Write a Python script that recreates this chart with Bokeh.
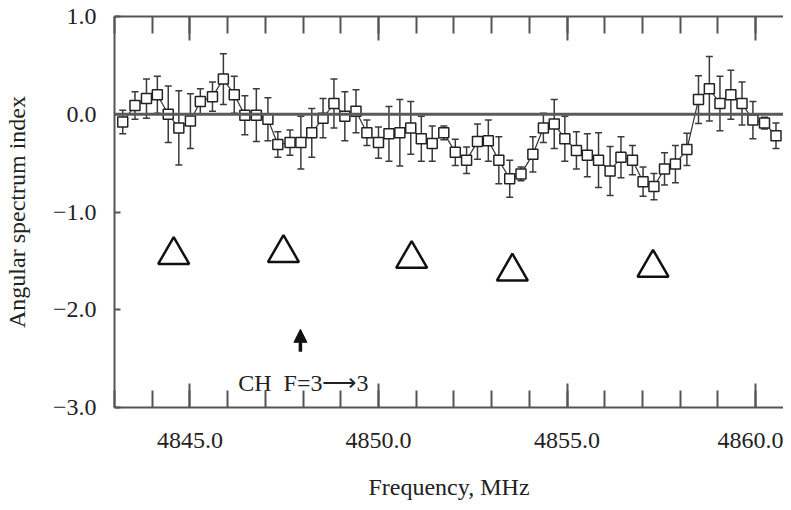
from bokeh.plotting import figure
from bokeh.models import (Range1d, FixedTicker, LinearAxis, Whisker, TeeHead, Span,
                          Label, Arrow, NormalHead, ColumnDataSource, PrintfTickFormatter)
from bokeh.embed import file_html
from bokeh.resources import INLINE

# ---- data ----
freq = [4843.218, 4843.543, 4843.848, 4844.136, 4844.425, 4844.706, 4845.013, 4845.276,
        4845.598, 4845.887, 4846.176, 4846.457, 4846.761, 4847.068, 4847.331, 4847.654,
        4847.942, 4848.231, 4848.530, 4848.819, 4849.108, 4849.404, 4849.693, 4850.000,
        4850.278, 4850.567, 4850.856, 4851.136, 4851.425, 4851.732, 4852.037, 4852.336,
        4852.625, 4852.913, 4853.192, 4853.480, 4853.780, 4854.094, 4854.373, 4854.661,
        4854.942, 4855.249, 4855.538, 4855.835, 4856.142, 4856.430, 4856.735, 4857.016,
        4857.304, 4857.585, 4857.874, 4858.178, 4858.486, 4858.774, 4859.055, 4859.344,
        4859.640, 4859.929, 4860.236, 4860.541]
index = [-0.08, 0.09, 0.16, 0.20, 0.00, -0.14, -0.07, 0.13, 0.18, 0.36, 0.20, -0.01,
         -0.01, -0.05, -0.31, -0.29, -0.29, -0.19, -0.04, 0.11, -0.02, 0.03, -0.19, -0.29,
         -0.20, -0.19, -0.14, -0.25, -0.30, -0.19, -0.39, -0.47, -0.28, -0.27, -0.47, -0.66,
         -0.61, -0.41, -0.14, -0.10, -0.25, -0.37, -0.42, -0.47, -0.58, -0.44, -0.47, -0.69,
         -0.74, -0.56, -0.51, -0.36, 0.15, 0.26, 0.11, 0.20, 0.11, -0.06, -0.09, -0.22]
err = [0.12, 0.14, 0.20, 0.19, 0.29, 0.38, 0.28, 0.13, 0.15, 0.26, 0.19, 0.20,
       0.27, 0.22, 0.13, 0.13, 0.27, 0.25, 0.20, 0.25, 0.25, 0.22, 0.13, 0.16,
       0.28, 0.34, 0.27, 0.23, 0.18, 0.07, 0.135, 0.135, 0.18, 0.21, 0.24, 0.19,
       0.07, 0.18, 0.15, 0.25, 0.23, 0.19, 0.22, 0.28, 0.25, 0.21, 0.15, 0.15,
       0.135, 0.165, 0.19, 0.165, 0.245, 0.33, 0.28, 0.25, 0.22, 0.19, 0.06, 0.13]

tri_freq = [4844.57, 4847.48, 4850.88, 4853.55, 4857.28]
tri_val = [-1.44, -1.42, -1.48, -1.61, -1.57]

arrow_freq = 4847.93
arrow_from = -2.43
arrow_to = -2.20
note_text = "CH\u00a0\u00a0F=3\u27f63"
note_freq = 4846.28
note_val = -2.75

x_major = [4845, 4850, 4855, 4860]
x_minor = list(range(4843, 4862))
y_ticks = [1, 0, -1, -2, -3]
y_tick_labels = ["1.0", "0.0", "\u22121.0", "\u22122.0", "\u22123.0"]

lower = [v - e for v, e in zip(index, err)]
upper = [v + e for v, e in zip(index, err)]
src = ColumnDataSource(dict(x=freq, y=index, lo=lower, hi=upper))

FONT = "'Liberation Serif', 'Times New Roman', Times, serif"
TXT = "#222222"
AX = "#555555"

p = figure(width=783, height=502, output_backend="svg", toolbar_location=None,
           x_range=Range1d(4843.0, 4860.74), y_range=Range1d(-3.0, 1.0),
           min_border_left=107, min_border_right=0, min_border_top=16, min_border_bottom=90,
           x_axis_label="Frequency, MHz", y_axis_label="Angular spectrum index")
p.outline_line_color = None
p.grid.visible = False
p.background_fill_color = "white"
p.border_fill_color = "white"

xa = p.xaxis[0]
xa.ticker = FixedTicker(ticks=x_major, minor_ticks=x_minor)
xa.formatter = PrintfTickFormatter(format="%.1f")
xa.major_tick_in = 24
xa.major_tick_out = 0
xa.minor_tick_in = 17
xa.minor_tick_out = 0
xa.major_label_standoff = 25
xa.axis_label_standoff = 23

ya = p.yaxis[0]
ya.ticker = FixedTicker(ticks=y_ticks, minor_ticks=[])
ya.major_label_overrides = {t: l for t, l in zip(y_ticks, y_tick_labels)}
ya.major_tick_in = 6
ya.major_tick_out = 0
ya.minor_tick_in = 0
ya.minor_tick_out = 0
ya.major_label_standoff = 18
ya.axis_label_standoff = 20

top = LinearAxis(ticker=FixedTicker(ticks=x_major, minor_ticks=x_minor),
                 major_tick_in=24, major_tick_out=0, minor_tick_in=17, minor_tick_out=0,
                 major_label_overrides={t: "" for t in x_major}, major_label_standoff=0)
p.add_layout(top, "above")

for ax in [xa, ya, top]:
    ax.axis_line_color = AX
    ax.axis_line_width = 2
    ax.major_tick_line_color = AX
    ax.major_tick_line_width = 2
    ax.minor_tick_line_color = AX
    ax.minor_tick_line_width = 2
for ax in [xa, ya]:
    ax.major_label_text_font = FONT
    ax.major_label_text_font_size = "24px"
    ax.major_label_text_color = TXT
    ax.axis_label_text_font = FONT
    ax.axis_label_text_font_size = "24px"
    ax.axis_label_text_font_style = "normal"
    ax.axis_label_text_color = TXT

p.add_layout(Span(location=0, dimension="width", line_color="#5a5a5a", line_width=3))

p.add_layout(Whisker(source=src, base="x", lower="lo", upper="hi", dimension="height",
                     line_color="#3a3a3a", line_width=1.5,
                     upper_head=TeeHead(size=7, line_color="#3a3a3a", line_width=1.5),
                     lower_head=TeeHead(size=7, line_color="#3a3a3a", line_width=1.5)))
p.line("x", "y", source=src, line_color="#333333", line_width=1.2)
p.scatter("x", "y", source=src, marker="square", size=10, fill_color="white",
          line_color="#222222", line_width=1.5)

p.scatter(tri_freq, tri_val, marker="triangle", size=31, fill_color=None,
          line_color="#111111", line_width=2.5)

p.add_layout(Arrow(x_start=arrow_freq, y_start=arrow_from, x_end=arrow_freq, y_end=arrow_to,
                   line_color="#111111", line_width=3.5,
                   end=NormalHead(size=13, fill_color="#111111", line_color="#111111")))
p.add_layout(Label(x=note_freq, y=note_val, text=note_text, text_font=FONT,
                   text_font_size="24px", text_color=TXT, text_baseline="alphabetic"))

open("out.html", "w").write(file_html(p, INLINE))
